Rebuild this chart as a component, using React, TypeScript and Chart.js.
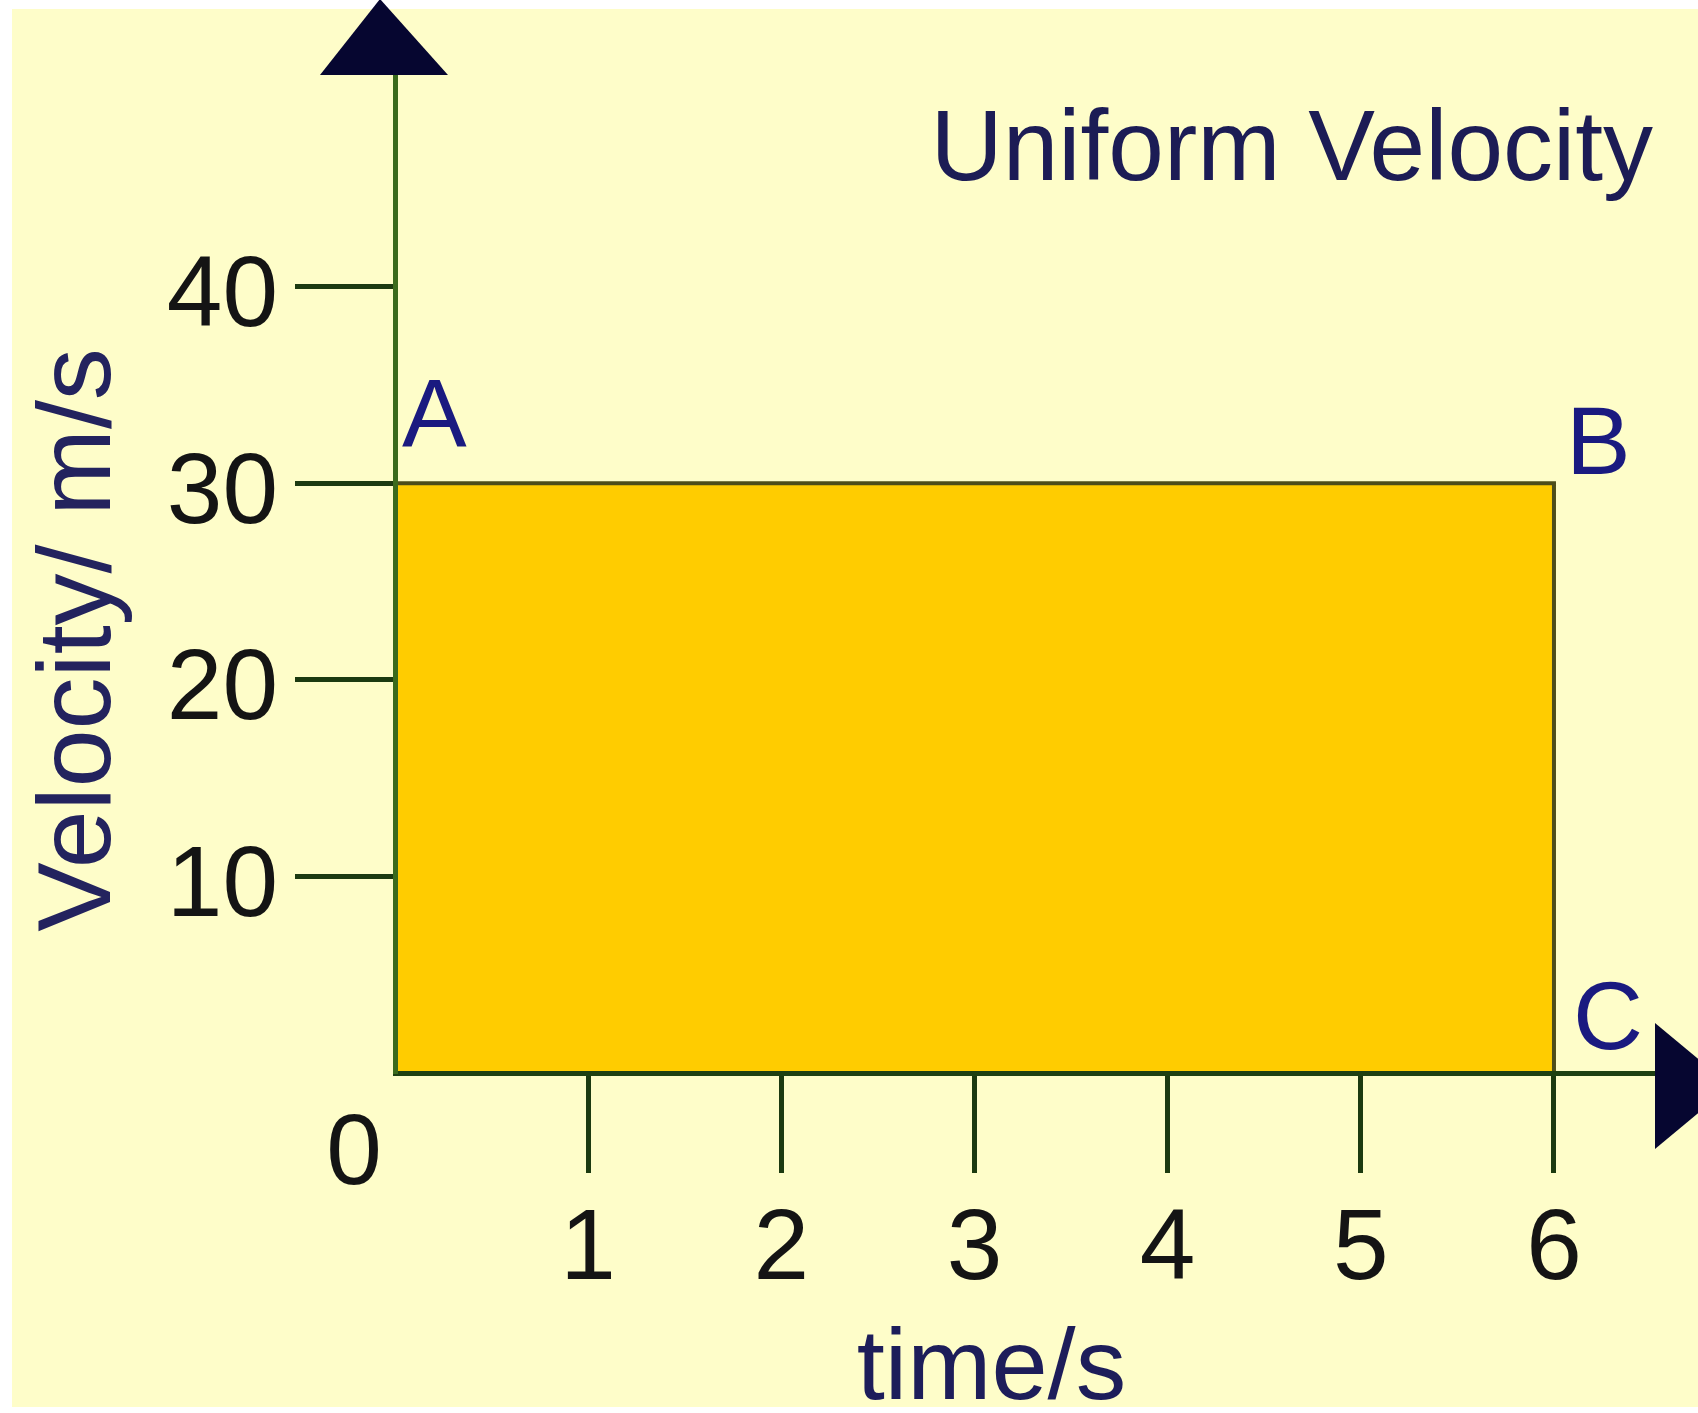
import React, { useEffect, useRef } from "react";
import { Chart, registerables } from "chart.js";

Chart.register(...registerables);

// ---- data ----
const rectTimes = [0, 6, 6];
const rectVelocities = [30, 30, 0];
const xTickValues = [1, 2, 3, 4, 5, 6];
const yTickValues = [10, 20, 30, 40];
const chartTitle = "Uniform Velocity";
const xAxisTitle = "time/s";
const yAxisTitle = "Velocity/ m/s";
const originLabel = "0";
const pointLabels = ["A", "B", "C"];

const FONT = "'Liberation Sans', Arial, Helvetica, sans-serif";
const W = 1698;
const H = 1413;

const decorPlugin = {
  id: "decor",
  beforeDraw(chart: any) {
    const { ctx } = chart;
    ctx.save();
    ctx.fillStyle = "#ffffff";
    ctx.fillRect(0, 0, W, H);
    ctx.fillStyle = "#FEFDC9";
    ctx.fillRect(12, 9, W - 12, 1407 - 9);
    ctx.restore();
  },
  afterDraw(chart: any) {
    const { ctx, chartArea } = chart;
    const xs = chart.scales.x;
    const ys = chart.scales.y;
    const x0 = xs.getPixelForValue(0);
    const x3 = xs.getPixelForValue(3);
    const x6 = xs.getPixelForValue(6);
    const y0 = ys.getPixelForValue(0);
    const y30 = ys.getPixelForValue(30);
    ctx.save();
    // arrows
    ctx.fillStyle = "#060630";
    ctx.beginPath();
    ctx.moveTo(x0 - 11 - 64, chartArea.top - 2);
    ctx.lineTo(x0 - 11 + 64, chartArea.top - 2);
    ctx.lineTo(x0 - 15, chartArea.top - 78);
    ctx.closePath();
    ctx.fill();
    ctx.beginPath();
    ctx.moveTo(chartArea.right, y0 + 13 - 63);
    ctx.lineTo(chartArea.right, y0 + 13 + 63);
    ctx.lineTo(chartArea.right + 76, y0 + 13);
    ctx.closePath();
    ctx.fill();

    // title
    ctx.textBaseline = "alphabetic";
    ctx.font = `100px ${FONT}`;
    ctx.fillStyle = "#1c1c55";
    ctx.textAlign = "right";
    ctx.fillText(chartTitle, chartArea.right - 2, chartArea.top + 103);

    // x axis title
    ctx.textAlign = "center";
    ctx.fillStyle = "#1d1d5a";
    ctx.font = `101px ${FONT}`;
    ctx.fillText(xAxisTitle, x3 + 17, y0 + 326);

    // origin label
    ctx.font = `100px ${FONT}`;
    ctx.fillStyle = "#141414";
    ctx.fillText(originLabel, x0 - 41, y0 + 111);

    // y axis title
    ctx.save();
    ctx.translate(110, (chartArea.top + chartArea.bottom) / 2 + 65);
    ctx.rotate(-Math.PI / 2);
    ctx.fillStyle = "#23235e";
    ctx.font = `104px ${FONT}`;
    ctx.textAlign = "center";
    ctx.fillText(yAxisTitle, 0, 0);
    ctx.restore();

    // point labels
    ctx.font = `97px ${FONT}`;
    ctx.fillStyle = "#1a1a80";
    ctx.textAlign = "left";
    ctx.fillText(pointLabels[0], x0 + 7, y30 - 37);
    ctx.fillText(pointLabels[1], x6 + 12, y30 - 9);
    ctx.fillText(pointLabels[2], x6 + 19, y0 - 24);
    ctx.restore();
  },
};

export default function App() {
  const ref = useRef<HTMLCanvasElement | null>(null);

  useEffect(() => {
    if (!ref.current) return;
    const chart = new Chart(ref.current, {
      type: "line",
      data: {
        datasets: [
          {
            data: rectTimes.map((t, i) => ({ x: t, y: rectVelocities[i] })),
            fill: "origin",
            backgroundColor: "#FFCC00",
            borderColor: "#4d4d1a",
            borderWidth: 4,
            pointRadius: 0,
            tension: 0,
          },
        ],
      },
      options: {
        animation: false,
        responsive: false,
        devicePixelRatio: 1,
        events: [],
        layout: { padding: { left: 0, top: 70, right: 43, bottom: 0 } },
        plugins: {
          legend: { display: false },
          tooltip: { enabled: false },
          title: { display: false },
        },
        scales: {
          x: {
            type: "linear",
            min: 0,
            max: 6.523,
            afterBuildTicks: (s: any) => {
              s.ticks = xTickValues.map((v) => ({ value: v }));
            },
            afterFit: (s: any) => {
              s.height = H - 1073;
            },
            ticks: {
              autoSkip: false,
              maxRotation: 0,
              padding: 18,
              color: "#141414",
              font: { size: 100, family: FONT },
              callback: (v: any) => String(v),
            },
            grid: {
              display: true,
              drawOnChartArea: false,
              drawTicks: true,
              tickLength: 100,
              tickWidth: 5,
              tickColor: "#1c3a10",
            },
            border: { display: true, color: "#1e4012", width: 5, z: 1 },
          },
          y: {
            type: "linear",
            min: 0,
            max: 50.66,
            afterBuildTicks: (s: any) => {
              s.ticks = yTickValues.map((v) => ({ value: v }));
            },
            afterFit: (s: any) => {
              s.width = 395;
            },
            ticks: {
              autoSkip: false,
              padding: 17,
              labelOffset: 12,
              color: "#141414",
              font: { size: 100, family: FONT },
              callback: (v: any) => String(v),
            },
            grid: {
              display: true,
              drawOnChartArea: false,
              drawTicks: true,
              tickLength: 100,
              tickWidth: 5,
              tickColor: "#1c3a10",
            },
            border: { display: true, color: "#3b6a1c", width: 5, z: 1 },
          },
        },
      },
      plugins: [decorPlugin],
    } as any);
    return () => chart.destroy();
  }, []);

  return (
    <div style={{ position: "absolute", left: 0, top: 0, width: W, height: H }}>
      <canvas ref={ref} width={W} height={H} style={{ display: "block", width: W, height: H }} />
    </div>
  );
}
